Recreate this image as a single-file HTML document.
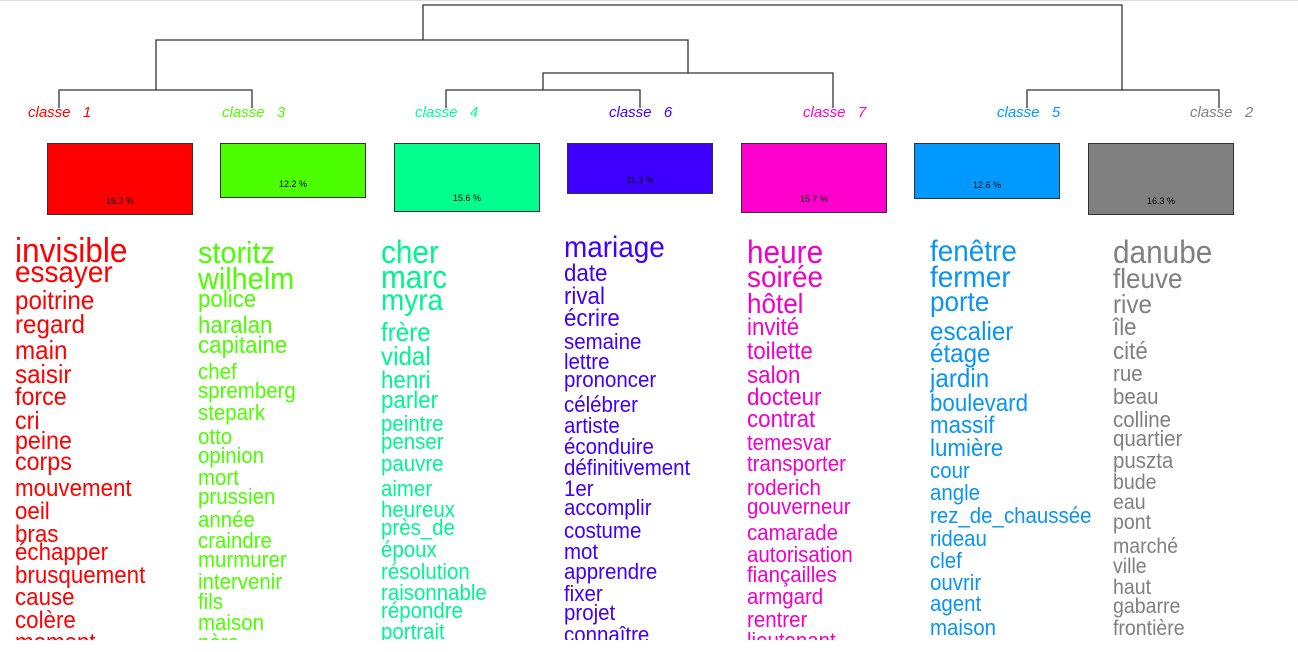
<!DOCTYPE html>
<html><head><meta charset="utf-8"><style>
body{margin:0;width:1298px;height:652px;background:#fff;position:relative;overflow:hidden;font-family:"Liberation Sans",sans-serif}
.w{position:absolute;white-space:nowrap;line-height:1}
.col{position:absolute;left:0;top:0;width:1298px;height:640px;overflow:hidden}
.c{position:absolute;top:0;height:640px;transform-origin:0 0;transform:scaleX(0.93)}
.lbl{position:absolute;top:104px;font-style:italic;font-size:15px;white-space:pre;word-spacing:2px}
.box{position:absolute;top:143px;border:1px solid #333;box-sizing:border-box;font-size:9px;text-align:center}
.box span{position:absolute;left:0;right:0;bottom:8px}
</style></head><body>
<svg width="1298" height="140" style="position:absolute;left:0;top:0" stroke="#333" stroke-width="1.3" fill="none">
<line x1="0" y1="0.5" x2="1298" y2="0.5" stroke="#ddd"/>
<path d="M423 40V5H1122V90"/>
<path d="M156 90V40H688V73"/>
<path d="M59 108V90H252V108"/>
<path d="M543 90V73H833V108"/>
<path d="M446 108V90H640V108"/>
<path d="M1027 108V90H1219V108"/>
</svg>
<div class="lbl" style="left:28px;color:#f00">classe  1</div>
<div class="lbl" style="left:222px;color:#4cff00">classe  3</div>
<div class="lbl" style="left:415px;color:#00ff99">classe  4</div>
<div class="lbl" style="left:609px;color:#4000ff">classe  6</div>
<div class="lbl" style="left:803px;color:#ff00cc">classe  7</div>
<div class="lbl" style="left:997px;color:#0099ff">classe  5</div>
<div class="lbl" style="left:1190px;color:#808080">classe  2</div>
<div class="box" style="left:47px;width:146px;height:72px;background:#f00"><span>16.2 %</span></div>
<div class="box" style="left:220px;width:146px;height:55px;background:#4cff00"><span>12.2 %</span></div>
<div class="box" style="left:394px;width:146px;height:69px;background:#00ff8c"><span>15.6 %</span></div>
<div class="box" style="left:567px;width:146px;height:51px;background:#4000ff"><span>11.3 %</span></div>
<div class="box" style="left:741px;width:146px;height:70px;background:#ff00cc"><span>15.7 %</span></div>
<div class="box" style="left:914px;width:146px;height:56px;background:#0099ff"><span>12.6 %</span></div>
<div class="box" style="left:1088px;width:146px;height:72px;background:#808080"><span>16.3 %</span></div>
<div class="col" id="cols"></div>
<script>
var data=[
[15,"#ff0000",[["invisible",252,34],["essayer",274,30],["poitrine",300,26],["regard",324,26],["main",350,26],["saisir",374,26],["force",397,25],["cri",421,25],["peine",441,25],["corps",462,25],["mouvement",489,24],["oeil",512,24],["bras",535,24],["échapper",553,24],["brusquement",576,24],["cause",598,24],["colère",621,24],["moment",643,24]]],
[198,"#4cff00",[["storitz",253,31],["wilhelm",279,31],["police",300,24],["haralan",326,24],["capitaine",346,24],["chef",371,22],["spremberg",390,22],["stepark",412,22],["otto",436,22],["opinion",455,22],["mort",477,22],["prussien",496,22],["année",519,22],["craindre",540,22],["murmurer",559,22],["intervenir",581,22],["fils",601,22],["maison",622,22],["père",642,22]]],
[381,"#00f590",[["cher",253,32],["marc",278,32],["myra",302,30],["frère",332,26],["vidal",356,26],["henri",381,24],["parler",401,24],["peintre",423,22],["penser",441,22],["pauvre",463,22],["aimer",488,22],["heureux",509,22],["près_de",527,22],["époux",549,22],["résolution",571,22],["raisonnable",592,22],["répondre",610,22],["portrait",631,22]]],
[564,"#4000ff",[["mariage",249,30],["date",274,24],["rival",297,24],["écrire",319,24],["semaine",341,22],["lettre",361,22],["prononcer",379,22],["célébrer",404,22],["artiste",425,22],["éconduire",446,22],["définitivement",467,22],["1er",488,22],["accomplir",507,22],["costume",530,22],["mot",551,22],["apprendre",571,22],["fixer",593,22],["projet",612,22],["connaître",634,22]]],
[747,"#f000c8",[["heure",253,32],["soirée",279,30],["hôtel",304,28],["invité",328,24],["toilette",352,24],["salon",376,24],["docteur",398,24],["contrat",420,24],["temesvar",442,22],["transporter",463,22],["roderich",487,22],["gouverneur",506,22],["camarade",532,22],["autorisation",554,22],["fiançailles",574,22],["armgard",596,22],["rentrer",619,22],["lieutenant",640,22]]],
[930,"#0a95f0",[["fenêtre",253,30],["fermer",279,30],["porte",302,28],["escalier",331,26],["étage",353,26],["jardin",378,26],["boulevard",404,24],["massif",426,24],["lumière",449,24],["cour",470,22],["angle",492,22],["rez_de_chaussée",515,22],["rideau",538,22],["clef",560,22],["ouvrir",582,22],["agent",603,22],["maison",627,22]]],
[1113,"#808080",[["danube",253,32],["fleuve",279,28],["rive",304,26],["île",328,24],["cité",352,24],["rue",373,22],["beau",396,22],["colline",419,22],["quartier",438,22],["puszta",460,22],["bude",482,21],["eau",502,21],["pont",522,21],["marché",546,21],["ville",566,21],["haut",587,21],["gabarre",606,21],["frontière",628,21]]]];
var h="";
data.forEach(function(c,i){
 var clip=i==5?"width:180px;overflow:hidden;":"";
 h+='<div class="c" style="left:'+c[0]+'px;color:'+c[1]+';'+clip+'">';
 c[2].forEach(function(w){h+='<div class="w" style="left:0;top:'+(w[1]+4-0.66*w[2]).toFixed(1)+'px;font-size:'+w[2]+'px">'+w[0]+'</div>';});
 h+='</div>';
});
document.getElementById("cols").innerHTML=h;
</script>
</body></html>
